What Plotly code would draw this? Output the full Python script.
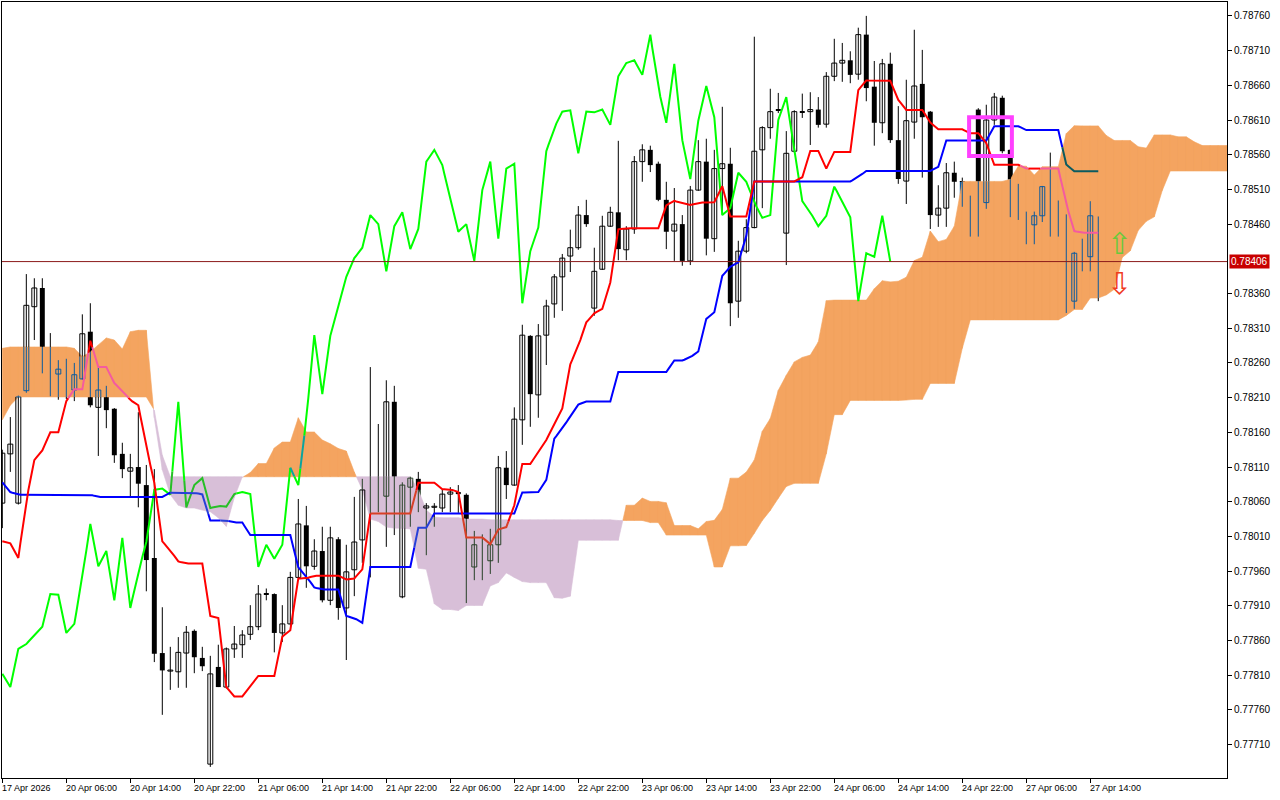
import plotly.graph_objects as go

# ---- data (AUDUSD-like H1, Ichimoku) ----
opens = [.78058, .78129, .78058, .78220, .78341, .78368, .78257, .78244, .78251, .78221,
         .78237, .78305, .78196, .78222, .78194, .78129, .78104, .78110, .78084, .77979,
         .77842, .77816, .77815, .77842, .77874, .77835, .77682, .77822, .77793, .77848,
         .77854, .77869, .77880, .77927, .77927, .77871, .77884, .77951, .78026, .77967,
         .77989, .77918, .78006, .77907, .77962, .78005, .78080, .78081, .78068, .78204,
         .77923, .78081, .78093, .78051, .78052, .78051, .78071, .78074, .78070, .77966,
         .77999, .77975, .77998, .78109, .78084, .78178, .78299, .78214, .78300, .78345,
         .78384, .78414, .78426, .78473, .78339, .78395, .78457, .78477, .78423, .78453,
         .78550, .78567, .78547, .78495, .78450, .78460, .78407, .78509, .78550, .78439,
         .78540, .78547, .78349, .78421, .78455, .78567, .78599, .78625, .78447, .78565,
         .78622, .78622, .78625, .78604, .78673, .78692, .78696, .78676, .78733, .78658,
         .78606, .78691, .78581, .78522, .78607, .78662, .78622, .78473, .78483, .78534,
         .78522, .78492, .78625, .78491, .78610, .78642, .78567, .78495, .78477, .78459,
         .78472, .78514, .78493, .78473, .78349, .78420, .78413, .78470]
highs = [.78135, .78182, .78213, .78388, .78382, .78382, .78303, .78264, .78266, .78260,
         .78330, .78346, .78253, .78227, .78195, .78145, .78129, .78189, .78113, .78107,
         .77908, .77851, .77865, .77881, .77876, .77851, .77838, .77854, .77850, .77881,
         .77875, .77911, .77940, .77935, .77928, .77911, .77959, .78064, .78054, .78006,
         .78024, .78024, .78009, .77998, .78067, .78093, .78254, .78172, .78235, .78227,
         .78088, .78096, .78103, .78058, .78058, .78077, .78081, .78084, .78072, .78018,
         .78013, .78021, .78126, .78133, .78196, .78315, .78300, .78316, .78351, .78388,
         .78417, .78452, .78486, .78495, .78426, .78472, .78485, .78580, .78457, .78558,
         .78575, .78573, .78550, .78521, .78512, .78473, .78515, .78581, .78583, .78567,
         .78629, .78570, .78436, .78467, .78730, .78601, .78655, .78649, .78594, .78624,
         .78648, .78650, .78643, .78679, .78727, .78721, .78709, .78743, .78760, .78695,
         .78698, .78707, .78630, .78668, .78740, .78711, .78623, .78516, .78548, .78550,
         .78527, .78501, .78627, .78632, .78649, .78645, .78568, .78518, .78478, .78478,
         .78515, .78563, .78494, .78474, .78420, .78439, .78493, .78471]
lows = [.78022, .78103, .78056, .78217, .78293, .78245, .78212, .78207, .78208, .78205,
        .78236, .78196, .78126, .78166, .78116, .78094, .78067, .78052, .77931, .77829,
        .77753, .77789, .77792, .77792, .77813, .77816, .77678, .77793, .77791, .77835,
        .77835, .77861, .77875, .77918, .77843, .77858, .77882, .77950, .77936, .77962,
        .77915, .77911, .77890, .77832, .77924, .77972, .77951, .78045, .77995, .78012,
        .77921, .78024, .78045, .77983, .78024, .78045, .78045, .78044, .77914, .77947,
        .77947, .77956, .77972, .78064, .78083, .78142, .78168, .78181, .78257, .78325,
        .78335, .78391, .78423, .78456, .78328, .78394, .78456, .78408, .78408, .78446,
        .78521, .78535, .78493, .78424, .78407, .78400, .78401, .78508, .78415, .78420,
        .78473, .78313, .78325, .78418, .78454, .78483, .78583, .78620, .78401, .78563,
        .78613, .78574, .78599, .78599, .78666, .78665, .78663, .78668, .78637, .78573,
        .78591, .78577, .78518, .78489, .78583, .78527, .78453, .78456, .78456, .78498,
        .78485, .78442, .78442, .78482, .78603, .78562, .78470, .78466, .78431, .78431,
        .78463, .78442, .78442, .78332, .78338, .78392, .78392, .78349]
closes = [.78130, .78143, .78211, .78343, .78368, .78254, .78243, .78251, .78221, .78243,
          .78302, .78199, .78221, .78192, .78127, .78107, .78109, .78086, .77976, .77841,
          .77817, .77817, .77843, .77872, .77836, .77823, .77812, .77793, .77848, .77855,
          .77868, .77880, .77927, .77926, .77871, .77884, .77951, .78028, .77967, .77989,
          .77918, .78008, .77907, .77959, .78002, .78077, .78079, .78070, .78204, .78052,
          .78084, .78094, .78051, .78054, .78053, .78071, .78074, .78071, .77966, .77998,
          .77978, .77998, .78109, .78084, .78179, .78300, .78215, .78299, .78342, .78384,
          .78411, .78426, .78473, .78460, .78392, .78457, .78477, .78424, .78453, .78550,
          .78567, .78545, .78495, .78449, .78460, .78407, .78509, .78550, .78439, .78540,
          .78547, .78346, .78421, .78455, .78565, .78599, .78622, .78624, .78562, .78622,
          .78621, .78625, .78603, .78673, .78692, .78696, .78675, .78733, .78656, .78606,
          .78691, .78581, .78525, .78609, .78659, .78614, .78473, .78483, .78534, .78521,
          .78491, .78469, .78473, .78610, .78643, .78565, .78493, .78477, .78457, .78472,
          .78514, .78493, .78470, .78349, .78418, .78413, .78472, .78406]

# indicator values whose history lies left of the visible window
tenkan_early = [.78003, .78000, .77979, .78062, .78120, .78134, .78160, .78160]
kijun_early = [.78088, .78074] + [.78070] * 10 + [.78067] * 9 + [.78073] * 4
span_a_early = [.78281, .78283, .78283, .78283, .78283, .78283, .78283, .78283, .78283, .78281,
                .78269, .78276, .78286, .78296, .78293, .78280, .78305, .78307, .78307, .78181,
                .78106, .78070, .78055, .78051, .78051, .78048]
span_b_early = ([.78178, .78199] + [.78211] * 17 + [.78192, .78127] + [.78096] * 31
                + [.78077, .78048, .78038, .78037, .78037, .78037, .78035, .78035, .78035]
                + [.78034] * 16)

tick_bars = list(range(0, 137, 8))
tick_text = ["17 Apr 2026", "20 Apr 06:00", "20 Apr 14:00", "20 Apr 22:00", "21 Apr 06:00",
             "21 Apr 14:00", "21 Apr 22:00", "22 Apr 06:00", "22 Apr 14:00", "22 Apr 22:00",
             "23 Apr 06:00", "23 Apr 14:00", "23 Apr 22:00", "24 Apr 06:00", "24 Apr 14:00",
             "24 Apr 22:00", "27 Apr 06:00", "27 Apr 14:00"]
last_price = 0.78406

n = len(closes)
SHIFT = 26

# ---- Ichimoku lines ----
tenkan, kijun = [], []
for i in range(n):
    if i < 8:
        tenkan.append(tenkan_early[i])
    else:
        tenkan.append((max(highs[i - 8:i + 1]) + min(lows[i - 8:i + 1])) / 2)
    if i < 25:
        kijun.append(kijun_early[i])
    else:
        kijun.append((max(highs[i - 25:i + 1]) + min(lows[i - 25:i + 1])) / 2)

m = n + SHIFT
span_a, span_b = [], []
for j in range(m):
    span_a.append(span_a_early[j] if j < SHIFT else (tenkan[j - SHIFT] + kijun[j - SHIFT]) / 2)
    if j < 77:
        span_b.append(span_b_early[j])
    else:
        k = j - SHIFT
        span_b.append((max(highs[k - 51:k + 1]) + min(lows[k - 51:k + 1])) / 2)

chikou_x = list(range(n - SHIFT))
chikou_y = closes[SHIFT:]

ORANGE, LILAC = "#F4A460", "#D8BFD8"


def inv(col, cloud):
    # MT5 draws the cloud with an xor-like raster op
    c = [int(col[k:k + 2], 16) for k in (1, 3, 5)]
    b = [int(cloud[k:k + 2], 16) for k in (1, 3, 5)]
    return "#%02X%02X%02X" % tuple(bb ^ (255 - cc) for bb, cc in zip(b, c))


def cloud_at(x):
    j = min(max(int(x), 0), m - 2)
    t = x - j
    a = span_a[j] + t * (span_a[j + 1] - span_a[j])
    b = span_b[j] + t * (span_b[j + 1] - span_b[j])
    return min(a, b), max(a, b), (ORANGE if a >= b else LILAC)


def split(lo, hi, clo, chi):
    parts = []
    if lo < clo:
        parts.append((lo, min(hi, clo), False))
    if hi > clo and lo < chi:
        parts.append((max(lo, clo), min(hi, chi), True))
    if hi > chi:
        parts.append((max(lo, chi), hi, False))
    return parts


fig = go.Figure()

# ---- cloud ----
polys = {ORANGE: ([], []), LILAC: ([], [])}
for j in range(m - 1):
    a0, b0, a1, b1 = span_a[j], span_b[j], span_a[j + 1], span_b[j + 1]
    d0, d1 = a0 - b0, a1 - b1
    if d0 * d1 < 0:
        t = d0 / (d0 - d1)
        xc, yc = j + t, a0 + t * (a1 - a0)
        pieces = [([j, xc, j], [a0, yc, b0], d0), ([xc, j + 1, j + 1], [yc, a1, b1], d1)]
    else:
        pieces = [([j, j + 1, j + 1, j], [a0, a1, b1, b0], d0 + d1)]
    for px, py, d in pieces:
        col = ORANGE if d >= 0 else LILAC
        polys[col][0].extend(px + [px[0], None])
        polys[col][1].extend(py + [py[0], None])
for col, (px, py) in polys.items():
    fig.add_trace(go.Scatter(x=px, y=py, mode="lines", fill="toself", fillcolor=col,
                             line=dict(color=col, width=0.6), hoverinfo="skip"))

# ---- candles ----
seg = {}
bars = {"x": [], "base": [], "h": [], "c": []}


def add_seg(col, xs, ys):
    d = seg.setdefault(col, ([], []))
    d[0].extend(xs + [None])
    d[1].extend(ys + [None])


HW = 0.31
for i in range(n):
    clo, chi, ccol = cloud_at(i)
    for a, b, ins in split(lows[i], highs[i], clo, chi):
        add_seg(inv("#000000", ccol) if ins else "#000000", [i, i], [a, b])
    lo, hi = min(opens[i], closes[i]), max(opens[i], closes[i])
    if hi - lo < 0.000015:
        hi = lo + 0.000015
    bull = closes[i] >= opens[i]
    for a, b, ins in split(lo, hi, clo, chi):
        if bull:
            if not ins:
                bars["x"].append(i); bars["base"].append(a); bars["h"].append(b - a)
                bars["c"].append("#FFFFFF")
            lc = inv("#000000", ccol) if ins else "#000000"
            add_seg(lc, [i - HW, i - HW], [a, b])
            add_seg(lc, [i + HW, i + HW], [a, b])
        else:
            bars["x"].append(i); bars["base"].append(a); bars["h"].append(b - a)
            bars["c"].append(inv("#000000", ccol) if ins else "#000000")
    if bull:
        for yv in (lo, hi):
            lc = inv("#000000", ccol) if clo <= yv <= chi else "#000000"
            add_seg(lc, [i - HW, i + HW], [yv, yv])

fig.add_trace(go.Bar(x=bars["x"], y=bars["h"], base=bars["base"], width=2 * HW,
                     marker=dict(color=bars["c"], line=dict(width=0)), hoverinfo="skip"))
for col, (sx, sy) in seg.items():
    fig.add_trace(go.Scatter(x=sx, y=sy, mode="lines", line=dict(color=col, width=1),
                             hoverinfo="skip"))

# ---- indicator lines (colour changes where they pass through the cloud) ----
def add_line(xs, ys, col, width=2):
    buckets = {}
    prev = None
    for k in range(len(xs) - 1):
        for s in range(4):
            t0, t1 = s / 4, (s + 1) / 4
            xa = xs[k] + t0 * (xs[k + 1] - xs[k]); xb = xs[k] + t1 * (xs[k + 1] - xs[k])
            ya = ys[k] + t0 * (ys[k + 1] - ys[k]); yb = ys[k] + t1 * (ys[k + 1] - ys[k])
            c0, c1, cc = cloud_at((xa + xb) / 2)
            c = inv(col, cc) if c0 <= (ya + yb) / 2 <= c1 else col
            d = buckets.setdefault(c, ([], []))
            if c == prev:
                d[0].append(xb); d[1].append(yb)
            else:
                if d[0]:
                    d[0].append(None); d[1].append(None)
                d[0].extend([xa, xb]); d[1].extend([ya, yb])
            prev = c
    for c, (bx, by) in buckets.items():
        fig.add_trace(go.Scatter(x=bx, y=by, mode="lines", line=dict(color=c, width=width),
                                 hoverinfo="skip"))


add_line(chikou_x, chikou_y, "#00FF00")
add_line(list(range(n)), kijun, "#0000FF")
add_line(list(range(n)), tenkan, "#FF0000")

yticks = [round(0.77710 + 0.0005 * k, 5) for k in range(22)]
yticks_shown = [v for v in yticks if abs(v - 0.78410) > 1e-7]

annotations = [dict(x=b, y=0, xref="x", yref="paper", text=t, showarrow=False,
                    xanchor="left", yanchor="top", yshift=-3, xshift=-2,
                    font=dict(size=9, color="#000000", family="Liberation Sans"))
               for b, t in zip(tick_bars, tick_text)]
annotations.append(dict(x=1, y=last_price, xref="paper", yref="y", text="0.78406",
                        showarrow=False, xanchor="left", xshift=2, bgcolor="#C80000",
                        font=dict(size=10, color="#FFFFFF", family="Liberation Sans"),
                        borderpad=1))
# signal arrows
annotations.append(dict(x=139.6, y=0.78432, xref="x", yref="y", text="⇧", showarrow=False,
                        font=dict(size=30, color="#6CC83C", family="DejaVu Sans")))
annotations.append(dict(x=139.6, y=0.78374, xref="x", yref="y", text="⇩", showarrow=False,
                        font=dict(size=30, color="#F03C1E", family="DejaVu Sans")))

fig.update_layout(
    width=1280, height=800,
    margin=dict(l=2, r=53, t=2, b=22, autoexpand=False),
    plot_bgcolor="white", paper_bgcolor="white",
    showlegend=False, barmode="overlay",
    xaxis=dict(range=[-0.04, 153.09], showgrid=False, zeroline=False, automargin=False,
               tickvals=tick_bars, showticklabels=False, ticks="outside", ticklen=4,
               tickcolor="#000000", showline=True, linecolor="#000000", mirror=True),
    yaxis=dict(range=[0.77662, 0.78780], side="right", showgrid=False, zeroline=False,
               automargin=False,
               tickvals=yticks_shown, tickformat=".5f", ticks="outside", ticklen=4,
               tickcolor="#000000", showline=True, linecolor="#000000", mirror=True,
               tickfont=dict(size=10, color="#000000", family="Liberation Sans")),
    annotations=annotations,
    shapes=[
        dict(type="line", xref="paper", x0=0, x1=1, y0=last_price, y1=last_price,
             line=dict(color="#8B1A1A", width=1)),
        dict(type="rect", x0=120.85, x1=126.2, y0=0.78558, y1=0.78614,
             line=dict(color="#FF40FF", width=4)),
    ],
)

fig.write_html("out.html", config={"displayModeBar": False},
               post_script="document.body.style.margin='0';")
